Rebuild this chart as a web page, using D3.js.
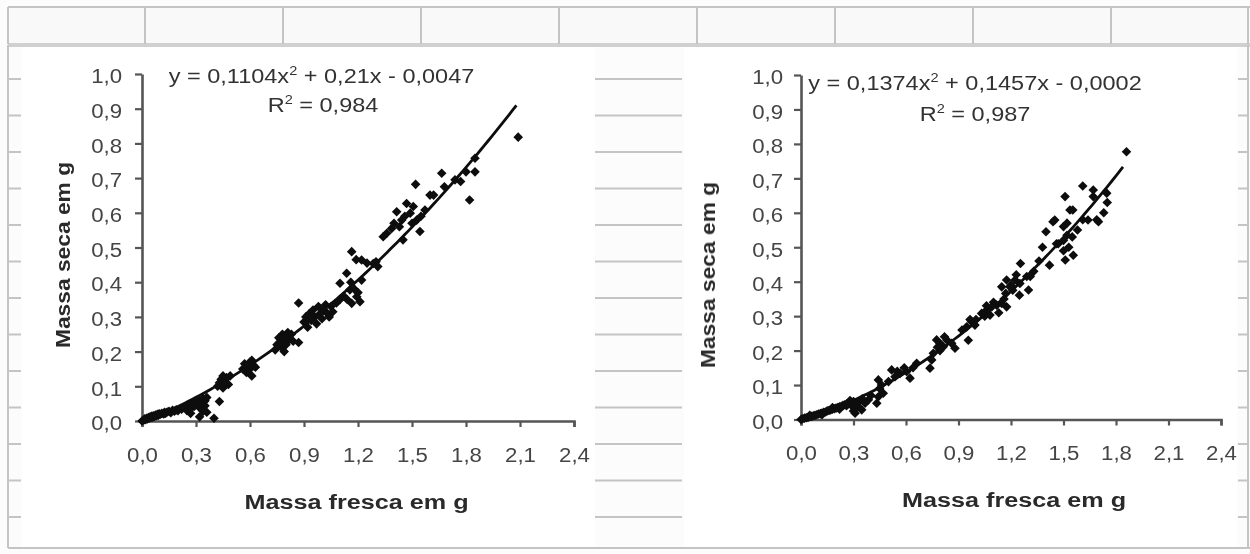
<!DOCTYPE html>
<html>
<head>
<meta charset="utf-8">
<script src="https://cdn.jsdelivr.net/npm/d3@7"></script>
<style>
  body { margin: 0; background: #fcfcfc; }
  svg { display: block; font-family: "Liberation Sans", Arial, sans-serif; }
</style>
</head>
<body>
<div id="chart"></div>
<script>
// ---- data ----
var xTicks = [0, 0.3, 0.6, 0.9, 1.2, 1.5, 1.8, 2.1, 2.4];
var yTicks = [0, 0.1, 0.2, 0.3, 0.4, 0.5, 0.6, 0.7, 0.8, 0.9, 1.0];
var xTitle = "Massa fresca em g";
var yTitle = "Massa seca em g";

// left chart: [massa fresca, massa seca]
var leftPoints = [
  [0.00,0.000],[0.01,0.003],[0.015,0.006],[0.02,0.004],[0.025,0.008],[0.03,0.006],[0.035,0.010],[0.04,0.008],
  [0.045,0.012],[0.05,0.010],[0.055,0.014],[0.06,0.011],[0.065,0.015],[0.07,0.013],[0.075,0.017],[0.08,0.015],
  [0.085,0.019],[0.09,0.016],[0.095,0.021],[0.10,0.019],[0.11,0.022],[0.12,0.020],[0.125,0.025],[0.13,0.022],
  [0.14,0.026],[0.15,0.028],[0.16,0.024],[0.17,0.031],[0.18,0.028],[0.19,0.032],[0.20,0.030],[0.22,0.034],
  [0.24,0.040],[0.25,0.030],[0.26,0.046],[0.27,0.036],[0.28,0.050],[0.27,0.022],[0.29,0.042],[0.30,0.055],
  [0.31,0.048],[0.32,0.060],[0.33,0.052],[0.34,0.065],[0.32,0.038],[0.35,0.044],[0.35,0.058],[0.36,0.068],
  [0.34,0.028],[0.36,0.025],[0.32,0.012],[0.40,0.008],[0.43,0.056],
  [0.42,0.100],[0.43,0.110],[0.44,0.120],[0.45,0.095],[0.46,0.115],[0.47,0.125],[0.48,0.105],[0.49,0.130],[0.45,0.130],
  [0.56,0.150],[0.57,0.165],[0.58,0.140],[0.59,0.160],[0.60,0.170],[0.60,0.150],[0.61,0.130],[0.62,0.160],[0.61,0.175],[0.63,0.155],
  [0.74,0.205],[0.75,0.220],[0.76,0.240],[0.77,0.215],[0.78,0.250],[0.78,0.230],[0.79,0.200],[0.80,0.240],
  [0.81,0.255],[0.80,0.220],[0.82,0.235],[0.83,0.250],[0.84,0.230],[0.87,0.226],[0.87,0.340],
  [0.90,0.285],[0.91,0.300],[0.92,0.270],[0.93,0.310],[0.94,0.290],[0.95,0.320],[0.96,0.300],[0.97,0.280],
  [0.98,0.330],[0.99,0.310],[1.00,0.295],[1.01,0.320],[1.02,0.335],[1.03,0.310],[1.04,0.300],[1.05,0.330],
  [1.06,0.315],[1.08,0.340],[1.10,0.350],
  [1.10,0.397],[1.137,0.426],[1.155,0.378],[1.165,0.339],[1.165,0.488],[1.193,0.358],[1.211,0.344],[1.22,0.406],
  [1.22,0.464],[1.285,0.454],[1.31,0.445],[1.12,0.360],[1.14,0.350],[1.18,0.380],[1.19,0.465],[1.25,0.455],
  [1.16,0.400],[1.20,0.370],[1.30,0.459],
  [1.34,0.531],[1.36,0.541],[1.387,0.555],[1.415,0.603],[1.443,0.579],[1.45,0.522],[1.47,0.627],[1.49,0.599],
  [1.507,0.618],[1.526,0.579],[1.52,0.682],[1.544,0.546],[1.572,0.608],[1.43,0.560],[1.46,0.590],[1.50,0.570],
  [1.55,0.590],[1.40,0.570],
  [1.60,0.651],[1.62,0.651],[1.665,0.714],[1.68,0.675],[1.739,0.695],[1.77,0.690],[1.80,0.718],[1.82,0.637],
  [1.85,0.718],[1.85,0.757],[2.09,0.818]
];
var leftCoef = [0.1104, 0.21, -0.0047];   // a, b, c of y = ax^2 + bx + c
var leftFitEnd = 2.08;
var leftEq = ["y = 0,1104x", "2", " + 0,21x - 0,0047"];
var leftR2 = ["R", "2", " = 0,984"];

// right chart
var rightPoints = [
  [0.00,0.000],[0.01,0.002],[0.02,0.004],[0.03,0.005],[0.04,0.006],[0.05,0.008],[0.06,0.009],[0.07,0.011],
  [0.08,0.012],[0.09,0.014],[0.10,0.016],[0.11,0.017],[0.12,0.019],[0.13,0.021],[0.14,0.022],[0.15,0.025],
  [0.16,0.026],[0.17,0.028],[0.18,0.030],[0.19,0.031],[0.20,0.033],[0.21,0.035],[0.22,0.037],[0.23,0.038],
  [0.24,0.041],[0.25,0.043],[0.26,0.045],[0.27,0.046],[0.28,0.048],[0.29,0.050],[0.30,0.052],
  [0.05,0.012],[0.12,0.014],[0.18,0.035],[0.22,0.030],[0.26,0.040],[0.28,0.055],[0.30,0.035],[0.30,0.025],[0.31,0.045],
  [0.309,0.018],[0.327,0.037],[0.347,0.028],[0.366,0.047],[0.385,0.057],[0.433,0.047],[0.442,0.066],[0.449,0.090],
  [0.46,0.100],[0.442,0.115],[0.47,0.076],[0.40,0.070],[0.35,0.060],[0.33,0.050],
  [0.518,0.144],[0.537,0.124],[0.566,0.134],[0.59,0.150],[0.604,0.139],[0.623,0.120],[0.661,0.163],[0.50,0.110],
  [0.55,0.140],[0.64,0.150],
  [0.737,0.149],[0.747,0.173],[0.756,0.192],[0.775,0.231],[0.794,0.221],[0.794,0.200],[0.813,0.211],[0.833,0.231],
  [0.861,0.221],[0.88,0.207],[0.78,0.210],[0.82,0.240],
  [0.947,0.269],[0.956,0.230],[0.966,0.290],[0.975,0.284],[0.994,0.274],[0.92,0.260],[1.00,0.290],
  [1.032,0.308],[1.05,0.300],[1.061,0.318],[1.08,0.303],[1.09,0.327],[1.118,0.332],[1.13,0.310],[1.147,0.337],
  [1.175,0.327],[1.06,0.330],[1.10,0.340],[1.16,0.350],
  [1.147,0.385],[1.17,0.366],[1.175,0.405],[1.194,0.385],[1.21,0.375],[1.223,0.405],[1.248,0.361],[1.251,0.395],
  [1.254,0.453],[1.29,0.415],[1.30,0.376],[1.31,0.415],[1.20,0.390],[1.23,0.420],
  [1.33,0.430],[1.36,0.460],[1.38,0.500],[1.40,0.545],[1.42,0.448],[1.44,0.574],[1.45,0.579],[1.46,0.510],
  [1.47,0.510],[1.50,0.520],[1.50,0.490],[1.50,0.560],[1.509,0.647],[1.51,0.463],[1.52,0.570],[1.52,0.535],
  [1.53,0.500],[1.537,0.608],[1.55,0.530],[1.553,0.608],[1.556,0.477],[1.58,0.550],
  [1.61,0.678],[1.61,0.580],[1.64,0.579],[1.67,0.666],[1.67,0.647],[1.69,0.580],[1.70,0.574],[1.73,0.600],
  [1.747,0.657],[1.75,0.630],[1.86,0.777]
];
var rightCoef = [0.1374, 0.1457, -0.0002];
var rightFitEnd = 1.84;
var rightEq = ["y = 0,1374x", "2", " + 0,1457x - 0,0002"];
var rightR2 = ["R", "2", " = 0,987"];

// ---- page ----
var svgWidth = 1250;
var svgHeight = 554;

var svg = d3.select("#chart")
  .append("svg")
  .attr("width", svgWidth)
  .attr("height", svgHeight);

// the scan is soft, blur everything a little
svg.append("defs").append("filter").attr("id", "soft")
  .append("feGaussianBlur").attr("stdDeviation", 0.55);
var root = svg.append("g").attr("filter", "url(#soft)");

// spreadsheet behind the charts
var sheet = root.append("g").attr("stroke", "#c4c4c4").attr("fill", "none");
var colX = [8, 145, 283, 421, 559, 697, 835, 973, 1111, 1248];
sheet.append("rect").attr("x", 8).attr("y", 7).attr("width", 1240).attr("height", 38)
  .attr("fill", "#f9f9f9").attr("stroke", "none");
sheet.append("line").attr("x1", 8).attr("x2", 1250).attr("y1", 7).attr("y2", 7).attr("stroke-width", 2);
sheet.append("line").attr("x1", 8).attr("x2", 1250).attr("y1", 45).attr("y2", 45)
  .attr("stroke", "#d0d0d0").attr("stroke-width", 4);
colX.forEach(function(cx) {
  sheet.append("line").attr("x1", cx).attr("x2", cx).attr("y1", 7).attr("y2", 44).attr("stroke-width", 2);
});
sheet.append("line").attr("x1", 8).attr("x2", 8).attr("y1", 45).attr("y2", 548).attr("stroke-width", 2);
sheet.append("line").attr("x1", 1248).attr("x2", 1248).attr("y1", 45).attr("y2", 548).attr("stroke-width", 2);
sheet.append("line").attr("x1", 8).attr("x2", 1250).attr("y1", 548).attr("y2", 548).attr("stroke-width", 2);
d3.range(13).forEach(function(i) {
  var ry = 79 + i * 36.5;
  sheet.append("line").attr("x1", 8).attr("x2", 21).attr("y1", ry).attr("y2", ry).attr("stroke-width", 2);
  sheet.append("line").attr("x1", 595).attr("x2", 682).attr("y1", ry).attr("y2", ry).attr("stroke-width", 2);
  sheet.append("line").attr("x1", 1238).attr("x2", 1248).attr("y1", ry).attr("y2", ry).attr("stroke-width", 2);
});

// white chart areas
root.append("rect").attr("x", 22).attr("y", 47).attr("width", 573).attr("height", 500).attr("fill", "#fff");
root.append("rect").attr("x", 684).attr("y", 47).attr("width", 553).attr("height", 500).attr("fill", "#fff");

var fmt = function(d) { return d3.format(".1f")(d).replace(".", ","); };

function drawChart(cfg) {
  var x = d3.scaleLinear().domain([0, 2.4]).range([cfg.left, cfg.right]);
  var y = d3.scaleLinear().domain([0, 1]).range([cfg.bottom, cfg.top]);
  var g = root.append("g");

  // axes
  var xAxis = g.append("g")
    .attr("transform", `translate(0, ${cfg.bottom})`)
    .call(d3.axisBottom(x).tickValues(xTicks).tickFormat(fmt).tickSize(6).tickPadding(21));
  var yAxis = g.append("g")
    .attr("transform", `translate(${cfg.left}, 0)`)
    .call(d3.axisLeft(y).tickValues(yTicks).tickFormat(fmt).tickSize(7).tickSizeOuter(0));

  [xAxis, yAxis].forEach(function(a) {
    a.select(".domain").attr("stroke", "#555").attr("stroke-width", 2.6);
    a.selectAll(".tick line").attr("stroke", "#555").attr("stroke-width", 2.2);
    a.selectAll("text")
      .attr("font-size", 19.5)
      .attr("fill", "#444")
      .attr("font-family", "Liberation Sans, Arial, sans-serif");
  });
  xAxis.selectAll("text").attr("transform", "scale(1.14,1)");
  yAxis.selectAll("text")
    .attr("x", -cfg.yLabelGap / 1.14)
    .attr("dy", "0.45em")
    .attr("transform", "scale(1.14,1)");

  // points
  g.selectAll(".pt")
    .data(cfg.points)
    .enter()
    .append("path")
    .attr("class", "pt")
    .attr("d", d3.symbol(d3.symbolSquare, 46))
    .attr("transform", d => `translate(${x(d[0])}, ${y(d[1])}) rotate(45)`)
    .attr("fill", "#0d0d0d");

  // polynomial trendline from the printed equation
  var c = cfg.coef;
  var xs = d3.range(0, cfg.fitEnd + 0.0001, 0.02);
  g.append("path")
    .datum(xs)
    .attr("fill", "none")
    .attr("stroke", "#0d0d0d")
    .attr("stroke-width", 2.8)
    .attr("d", d3.line().x(d => x(d)).y(d => y(c[0] * d * d + c[1] * d + c[2])));

  // equation + R2
  function eqText(parts, cx, by) {
    var t = g.append("text")
      .attr("transform", `translate(${cx}, ${by}) scale(1.12,1)`)
      .attr("text-anchor", "middle")
      .attr("font-size", 21)
      .attr("fill", "#333");
    t.append("tspan").text(parts[0]);
    t.append("tspan").attr("font-size", 13).attr("dy", -8).text(parts[1]);
    t.append("tspan").attr("dy", 8).text(parts[2]);
  }
  eqText(cfg.eq, cfg.eqX, cfg.eqY);
  eqText(cfg.r2, cfg.r2X, cfg.r2Y);

  // axis titles
  g.append("text")
    .attr("transform", `translate(${cfg.xTitleX}, ${cfg.xTitleY}) scale(1.2,1)`)
    .attr("text-anchor", "middle")
    .attr("font-size", 21)
    .attr("font-weight", "bold")
    .attr("fill", "#2a2a2a")
    .text(xTitle);
  g.append("text")
    .attr("transform", `translate(${cfg.yTitleX}, ${cfg.yTitleY}) rotate(-90) scale(1.085,1)`)
    .attr("text-anchor", "middle")
    .attr("font-size", 21)
    .attr("font-weight", "bold")
    .attr("fill", "#2a2a2a")
    .text(yTitle);
}

drawChart({
  left: 142, right: 574, bottom: 421, top: 74, yLabelGap: 20,
  points: leftPoints, coef: leftCoef, fitEnd: leftFitEnd,
  eq: leftEq, eqX: 321.5, eqY: 82.5, r2: leftR2, r2X: 323, r2Y: 112,
  xTitleX: 356.5, xTitleY: 509, yTitleX: 70, yTitleY: 255
});

drawChart({
  left: 801, right: 1221, bottom: 419.5, top: 75, yLabelGap: 18,
  points: rightPoints, coef: rightCoef, fitEnd: rightFitEnd,
  eq: rightEq, eqX: 975, eqY: 90, r2: rightR2, r2X: 975, r2Y: 121,
  xTitleX: 1014, xTitleY: 507, yTitleX: 715, yTitleY: 275
});
</script>
</body>
</html>
